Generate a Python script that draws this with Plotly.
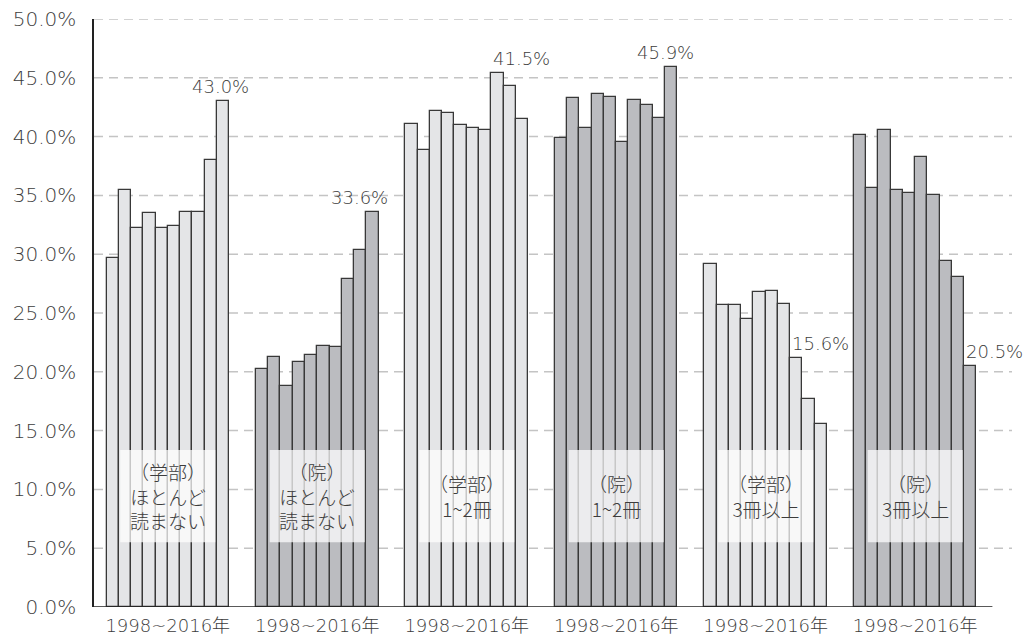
import plotly.graph_objects as go

years = [1998, 2000, 2002, 2004, 2006, 2008, 2010, 2012, 2014, 2016]
group_labels = [
    "（学部）<br>ほとんど<br>読まない",
    "（院）<br>ほとんど<br>読まない",
    "（学部）<br>1~2冊",
    "（院）<br>1~2冊",
    "（学部）<br>3冊以上",
    "（院）<br>3冊以上",
]
axis_label = "1998~2016年"

ug_rarely = [29.7, 35.5, 32.2, 33.5, 32.2, 32.4, 33.6, 33.6, 38.0, 43.0]
gr_rarely = [20.2, 21.3, 18.8, 20.8, 21.4, 22.2, 22.1, 27.9, 30.4, 33.6]
ug_1to2 = [41.1, 38.9, 42.2, 42.0, 41.0, 40.7, 40.6, 45.4, 44.3, 41.5]
gr_1to2 = [39.9, 43.3, 40.7, 43.6, 43.4, 39.5, 43.1, 42.7, 41.6, 45.9]
ug_3plus = [29.2, 25.7, 25.7, 24.5, 26.8, 26.9, 25.8, 21.2, 17.7, 15.6]
gr_3plus = [40.1, 35.6, 40.6, 35.5, 35.2, 38.3, 35.0, 29.4, 28.1, 20.5]

series = [ug_rarely, gr_rarely, ug_1to2, gr_1to2, ug_3plus, gr_3plus]
ytick_vals = [0, 5, 10, 15, 20, 25, 30, 35, 40, 45, 50]

LIGHT = "#e4e5e7"
DARK = "#bbbcc0"
EDGE = "#383838"
TEXT = "#3c3c3c"
NUM_FONT = "DejaVu Sans, Noto Sans CJK JP, sans-serif"
JP_FONT = "Noto Sans CJK JP, sans-serif"

STEP = 12.2
n = len(years)

fig = go.Figure()
centers = []
label_shift = [-2, -13, 0, -6, 0, 24]
for g, vals in enumerate(series):
    xs = [g * STEP + i + 0.5 for i in range(n)]
    centers.append(g * STEP + n / 2)
    fig.add_trace(go.Bar(
        x=xs, y=vals, width=1.0,
        marker=dict(color=LIGHT if g % 2 == 0 else DARK,
                    line=dict(color=EDGE, width=1.3)),
        showlegend=False, hoverinfo="skip",
    ))
    # value label of the final year, lifted above the bars it overlaps
    lookback = 1 if label_shift[g] > 15 else 3
    fig.add_annotation(
        x=xs[-1], y=max(vals[-lookback:]), text=f"{vals[-1]:.1f}%",
        showarrow=False, yanchor="bottom", yshift=2, xshift=label_shift[g],
        font=dict(family=NUM_FONT, size=18, color=TEXT, weight=200),
    )
    # category label box
    fig.add_shape(
        type="rect", x0=centers[g] - 3.88, x1=centers[g] + 3.88,
        y0=5.5, y1=13.35, xref="x", yref="y", layer="above",
        fillcolor="rgba(255,255,255,0.72)", line=dict(width=0),
    )
    fig.add_annotation(
        x=centers[g], y=9.4, text=group_labels[g], showarrow=False,
        font=dict(family=JP_FONT, size=19, color=TEXT, weight=300),
        xanchor="center", yanchor="middle",
    )

# dashed gridlines
for v in ytick_vals[1:]:
    fig.add_shape(type="line", xref="paper", yref="y", x0=0, x1=1, y0=v, y1=v,
                  line=dict(color="#c4c4c4", width=1.5, dash="9px,6px"), layer="below")
# baseline
fig.add_shape(type="line", xref="x", yref="y", x0=-1.02, x1=72.3, y0=0, y1=0,
              line=dict(color="#222222", width=1.5), layer="above")

fig.update_layout(
    width=1024, height=636,
    margin=dict(l=94, r=12, t=19, b=29, autoexpand=False),
    plot_bgcolor="white", paper_bgcolor="white",
    bargap=0,
    xaxis=dict(range=[-1.02, 73.9], tickvals=centers, ticktext=[axis_label] * 6,
               showgrid=False, zeroline=False, showline=False, ticks="",
               automargin=False, ticklabelstandoff=6,
               tickfont=dict(family=NUM_FONT, size=18, color=TEXT, weight=200)),
    yaxis=dict(range=[0, 50], tickvals=ytick_vals,
               ticktext=[f"{v:.1f}%" for v in ytick_vals],
               showgrid=False, zeroline=False, showline=True,
               linecolor="#222222", linewidth=1.5, ticks="",
               automargin=False, ticklabelstandoff=12,
               tickfont=dict(family=NUM_FONT, size=20, color=TEXT, weight=200)),
)

fig.write_html("out.html")
